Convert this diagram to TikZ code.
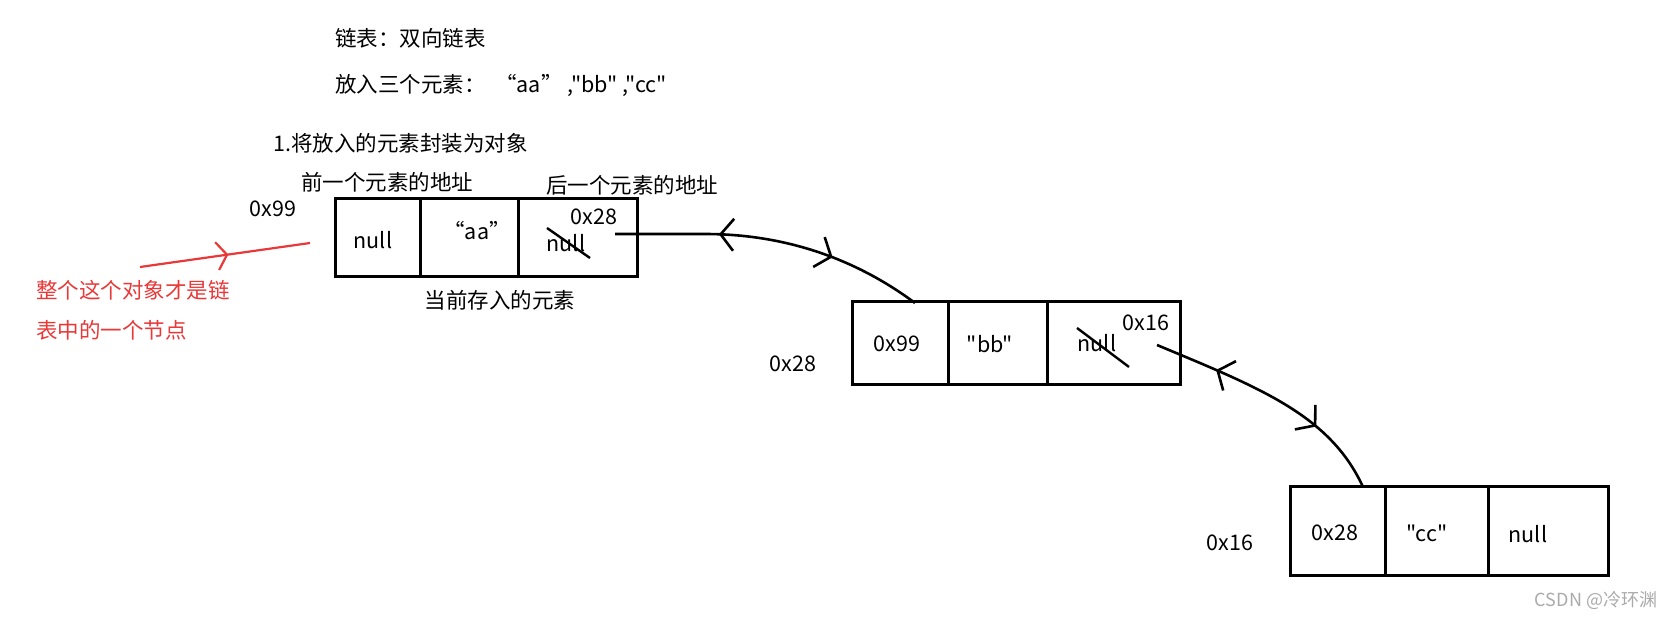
\documentclass[tikz,border=0pt]{standalone}
\usepackage{fontspec}
\setmainfont{Noto Sans CJK SC}[Ligatures=TeXOff]
\usetikzlibrary{arrows.meta,decorations.markings}
\definecolor{redink}{RGB}{232,56,56}
\definecolor{wm}{RGB}{170,170,170}
\tikzset{
  cell/.style={draw, line width=3pt, inner sep=0pt},
  lbl/.style={inner sep=0pt, font=\fontsize{21.5}{24}\selectfont},
  conn/.style={line width=2.6pt, postaction={decorate}},
  strike/.style={line width=2.4pt},
  barb/.tip={Straight Barb[length=13pt,width=32pt,line width=2.6pt]},
  rbarb/.tip={Straight Barb[length=10pt,width=28pt,line width=2.2pt]}
}
\begin{document}
\begin{tikzpicture}[x=1pt,y=-1pt]
\useasboundingbox (0,0) rectangle (1676,619);
% box 1
\node[cell, minimum width=85pt, minimum height=78pt] (b1a) at (377.5,237) {};
\node[cell, minimum width=98pt, minimum height=78pt] (b1b) at (469,237) {};
\node[cell, minimum width=119pt, minimum height=78pt] (b1c) at (577.5,237) {};
% box 2
\node[cell, minimum width=96pt, minimum height=83pt] (b2a) at (900,342.5) {};
\node[cell, minimum width=99pt, minimum height=83pt] (b2b) at (997.5,342.5) {};
\node[cell, minimum width=133pt, minimum height=83pt] (b2c) at (1113.5,342.5) {};
% box 3
\node[cell, minimum width=95pt, minimum height=89pt] (b3a) at (1337.5,530.5) {};
\node[cell, minimum width=103pt, minimum height=89pt] (b3b) at (1436.5,530.5) {};
\node[cell, minimum width=120pt, minimum height=89pt] (b3c) at (1548,530.5) {};
% texts top
\node[lbl, anchor=west] (t1) at (335,38) {链表：双向链表};
\node[lbl, anchor=west] (t2) at (335,85) {放入三个元素：\ \ “aa” ,"bb" ,"cc"};
\node[lbl, anchor=west] (t3) at (273,143) {1.将放入的元素封装为对象};
\node[lbl] (t4) at (387,182) {前一个元素的地址};
\node[lbl] (t5) at (632,185) {后一个元素的地址};
\node[lbl] (t6) at (273,209) {0x99};
\node[lbl] (t7) at (500,300) {当前存入的元素};
% box 1 labels
\node[lbl] (l1a) at (373,240) {null};
\node[lbl] (l1b) at (477,231) {“aa”};
\node[lbl] (l1c) at (566,243) {null};
\node[lbl] (l1d) at (594,217) {0x28};
% box 2 labels
\node[lbl] (l2a) at (897,344) {0x99};
\node[lbl] (l2b) at (990,344) {"bb"};
\node[lbl] (l2c) at (1097,343) {null};
\node[lbl] (l2d) at (1146,323) {0x16};
\node[lbl] (a2) at (793,364) {0x28};
% box 3 labels
\node[lbl] (l3a) at (1335,533) {0x28};
\node[lbl] (l3b) at (1427,533) {"cc"};
\node[lbl] (l3c) at (1528,534) {null};
\node[lbl] (a3) at (1230,543) {0x16};
% watermark
\node[inner sep=0pt, text=wm, font=\fontsize{18}{20}\selectfont] (wmk) at (1596,600) {CSDN @冷环渊};
% red note
\node[lbl, text=redink, anchor=west] (r1) at (36,290) {整个这个对象才是链};
\node[lbl, text=redink, anchor=west] (r2) at (36,330) {表中的一个节点};
% strike-outs
\coordinate (s1a) at (547,228); \coordinate (s1b) at (590,258);
\draw[strike] (s1a) -- (s1b);
\coordinate (s2a) at (1077,328); \coordinate (s2b) at (1129,367);
\draw[strike] (s2a) -- (s2b);
% connectors
\coordinate (p1) at (615,234);
\coordinate (q1) at (915,303);
\draw[conn, decoration={markings,
   mark=at position 0.33 with {\arrowreversed{barb}},
   mark=at position 0.70 with {\arrow{barb}}}]
  (p1) -- (705,234) .. controls (790,234) and (860,262) .. (q1);
\coordinate (p2) at (1157,345);
\coordinate (q2) at (1363,487);
\draw[conn, decoration={markings,
   mark=at position 0.25 with {\arrowreversed{barb}},
   mark=at position 0.70 with {\arrow{barb}}}]
  (p2) .. controls (1260,388) and (1330,415) .. (q2);
% red arrow
\coordinate (rs) at (140,267);
\coordinate (re) at (310,243);
\draw[redink, line width=2.2pt, postaction={decorate}, decoration={markings,
   mark=at position 0.52 with {\arrow{rbarb}}}]
  (rs) -- (re);
\end{tikzpicture}
\end{document}
